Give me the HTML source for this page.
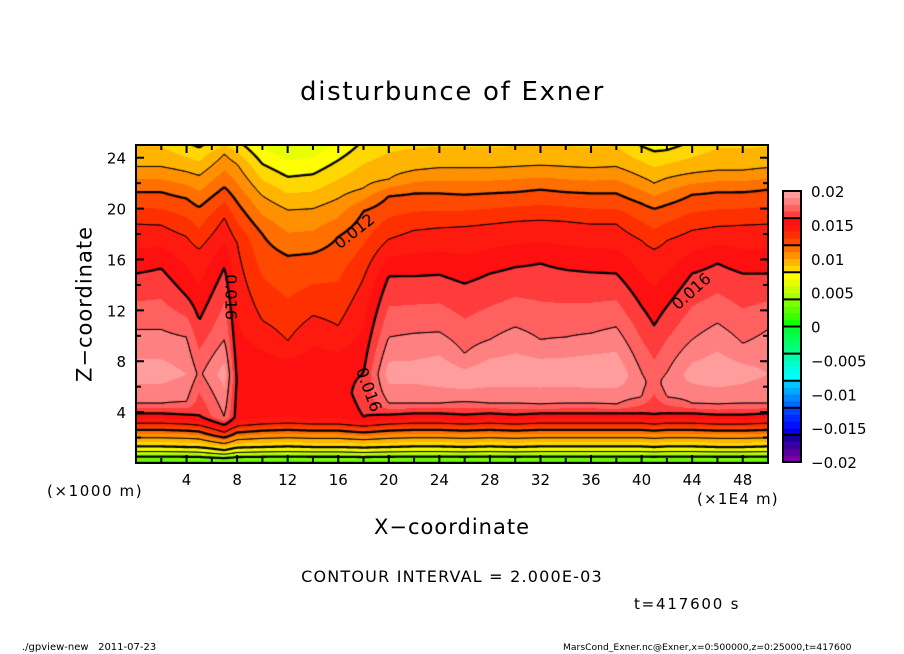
<!DOCTYPE html>
<html><head><meta charset="utf-8">
<style>
body{margin:0;background:#fff;}
#root{position:relative;width:904px;height:654px;overflow:hidden;background:#fff;font-family:"DejaVu Sans","Liberation Sans",sans-serif;color:#000;}
.t{position:absolute;white-space:nowrap;line-height:1;}
canvas{position:absolute;}
svg{position:absolute;left:0;top:0;}
</style></head>
<body>
<div id="root">
  <div class="t" style="left:300px;top:79px;font-size:26px;letter-spacing:1.7px;">disturbunce of Exner</div>
  <div class="t" style="left:85px;top:304px;font-size:21px;letter-spacing:1px;transform:translate(-50%,-50%) rotate(-90deg);">Z−coordinate</div>
  <div class="t" style="left:452px;top:517px;font-size:21px;letter-spacing:1px;transform:translateX(-50%);">X−coordinate</div>
  <div class="t" style="left:47px;top:484px;font-size:15px;letter-spacing:1.6px;">(×1000 m)</div>
  <div class="t" style="left:697px;top:492px;font-size:15px;letter-spacing:1.2px;">(×1E4 m)</div>
  <div class="t" style="left:452px;top:569px;font-size:16px;letter-spacing:1.2px;transform:translateX(-50%);">CONTOUR INTERVAL = 2.000E-03</div>
  <div class="t" style="left:634px;top:597px;font-size:15px;letter-spacing:1.8px;">t=417600 s</div>
  <div class="t" style="left:22px;top:643px;font-size:10px;">./gpview-new&nbsp;&nbsp;&nbsp;2011-07-23</div>
  <div class="t" style="left:563px;top:643px;font-size:9.2px;">MarsCond_Exner.nc@Exner,x=0:500000,z=0:25000,t=417600</div>
  <canvas id="cv" width="632" height="318" style="left:136px;top:145px;"></canvas>
  <svg id="ax" width="904" height="654"></svg>
</div>
<script>
// ---- data (z in km, for columns at xs in 1E4 m) ----
const xs   = [0,2,4,5,7,8,10,12,14,16,18,20,22,24,26,28,30,32,34,36,38,40,41,42,44,46,48,50];
const l8   = [26.5,26.5,25.2,24.8,25.6,25.4,23.5,22.5,22.7,23.8,25.4,26.5,26.5,26.5,26.5,26.5,26.5,26.5,26.5,26.5,26.5,24.9,24.5,24.6,25.3,26.5,26.5,26.5];
const l10  = [23.3,23.3,22.9,22.6,24.3,23.5,21.0,19.9,20.0,20.8,21.6,22.3,23.0,23.2,23.2,23.2,23.3,23.4,23.3,23.2,23.3,22.5,22.0,22.4,22.8,23.0,23.0,23.2];
const l12  = [21.3,21.3,20.8,20.1,21.7,20.5,18.0,16.3,16.5,17.8,19.8,21.0,21.2,21.2,21.1,21.2,21.3,21.5,21.3,21.2,21.2,20.4,20.0,20.3,21.1,21.3,21.3,21.5];
const l14  = [18.8,18.7,17.8,16.8,19.3,17.3,11.2,9.6,11.6,10.8,14.5,17.6,18.3,18.5,18.6,18.8,19.0,19.1,19.0,18.8,18.8,17.5,16.8,17.5,18.3,18.6,18.7,18.8];
const l16u = [14.9,15.3,13.1,11.2,15.4,null,null,null,null,null,7.0,14.7,14.7,14.8,14.1,14.9,15.4,15.7,15.2,15.0,14.9,12.3,10.8,12.3,14.9,15.7,14.9,14.9];
const l18u = [10.5,10.5,9.9,null,9.7,null,null,null,null,null,null,9.9,10.2,10.3,8.6,9.7,10.7,9.7,9.9,10.2,10.7,7.1,null,7.1,9.7,11.0,9.4,10.5];
const peak = [0.0195,0.0195,0.019,0.0178,0.0195,0.0158,0.0158,0.0158,0.0159,0.0158,0.0163,0.0195,0.0195,0.0198,0.0197,0.0198,0.0198,0.0198,0.0198,0.0199,0.0199,0.0183,0.0176,0.0185,0.0195,0.0198,0.0195,0.019];
const zPk  = [7,7,7,7,7,6.5,7,7,7,7,5.5,7,7,7,6.5,7,7,7,7,7,7,6.2,6.5,6.2,7,7,7,7];
const l18d = [4.7,4.7,4.8,null,3.6,null,null,null,null,null,null,4.7,4.7,4.7,4.8,4.7,4.7,4.6,4.7,4.7,4.6,5.2,null,5.2,4.7,4.6,4.7,4.7];
const l16d = [3.9,3.9,3.8,3.7,3.0,3.6,3.8,3.9,3.8,3.8,3.6,3.8,3.9,3.9,3.8,3.9,3.8,3.9,3.9,3.9,3.9,3.9,3.8,3.9,3.9,3.8,3.8,3.9];
const lowLevels = [0.004,0.006,0.008,0.010,0.012,0.014];
const lowFrac   = [0.13,0.23,0.33,0.51,0.67,0.8];
const xTicks = [4,8,12,16,20,24,28,32,36,40,44,48];
const zTicks = [4,8,12,16,20,24];
const cbLabels = ["0.02","0.015","0.01","0.005","0","−0.005","−0.01","−0.015","−0.02"];
const binColors = ["#7800a0","#5800a0","#3800a0","#1800a0","#0000e0","#0010ff","#0028ff","#0040ff",
 "#0068ff","#0088ff","#00a8ff","#00c8ff","#00ffff","#00ffe8","#00ffcc","#00ffa8",
 "#00ff80","#00ff68","#00ff50","#00ff30","#10ff00","#38ff00","#5cff00","#80ff00",
 "#a8ff00","#c8ff00","#e8ff00","#ffff00","#ffd800","#ffb400","#ff9000","#ff7000",
 "#ff4800","#ff3000","#ff1a10","#ff1010","#ff3c3c","#ff6060","#ff8080","#ff9c9c"];

// ---- geometry ----
const X0=136,X1=768,Y0=145,Y1=463,XMAX=50,ZMAX=25;
const sx=x=>X0+(x/XMAX)*(X1-X0);
const sy=z=>Y1-(z/ZMAX)*(Y1-Y0);

const profiles = xs.map((_,i)=>{
  const P=[[0,0.0018]];
  const base=l16d[i];
  for(let k=0;k<lowLevels.length;k++) if(lowLevels[k]<peak[i]) P.push([base*lowFrac[k],lowLevels[k]]);
  if(peak[i]>=0.016) P.push([base,0.016]); else P.push([base,peak[i]-0.0003]);
  const add=(z,v)=>{ if(z!=null && z>P[P.length-1][0]) P.push([z,v]); };
  add(l18d[i],0.018); add(zPk[i],peak[i]); add(l18u[i],0.018); add(l16u[i],0.016);
  add(l14[i],0.014); add(l12[i],0.012); add(l10[i],0.010); add(l8[i],0.008);
  return P;
});
function pval(P,z){
  for(let k=0;k<P.length-1;k++){ if(z<=P[k+1][0]){ const t=(z-P[k][0])/(P[k+1][0]-P[k][0]); return P[k][1]+t*(P[k+1][1]-P[k][1]); } }
  const a=P[P.length-2],b=P[P.length-1]; return b[1]+(z-b[0])*(b[1]-a[1])/(b[0]-a[0]);
}
function field(x,z){
  let i=0; while(i<xs.length-2 && x>xs[i+1]) i++;
  const t=Math.max(0,Math.min(1,(x-xs[i])/(xs[i+1]-xs[i])));
  return pval(profiles[i],z)*(1-t)+pval(profiles[i+1],z)*t;
}
function hex(c){return [parseInt(c.substr(1,2),16),parseInt(c.substr(3,2),16),parseInt(c.substr(5,2),16)];}
const rgb=binColors.map(hex);

const cv=document.getElementById('cv'),ctx=cv.getContext('2d');
const W=632,H=318,img=ctx.createImageData(W,H);
for(let py=0;py<H;py++){
  const z=(H-py-0.5)/H*ZMAX;
  for(let px=0;px<W;px++){
    const x=(px+0.5)/W*XMAX, v=field(x,z);
    let c; if(v>=0.02) c=[255,255,255]; else { let k=Math.floor((v+0.02)/0.001+1e-9); k=Math.max(0,Math.min(39,k)); c=rgb[k]; }
    const o=(py*W+px)*4; img.data[o]=c[0];img.data[o+1]=c[1];img.data[o+2]=c[2];img.data[o+3]=255;
  }
}
ctx.putImageData(img,0,0);

// contour lines (marching squares)
const S=2,NX=W/S+1,NY=Math.floor(H/S)+1,G=[];
for(let j=0;j<NY;j++){G.push([]);const z=(H-j*S)/H*ZMAX;for(let i=0;i<NX;i++)G[j].push(field(i*S/W*XMAX,z));}
ctx.strokeStyle='#000';ctx.lineCap='round';
for(let lv=1;lv<=10;lv++){
  const L=lv*0.002;
  ctx.lineWidth=(lv%2===0)?2.3:1;
  ctx.beginPath();
  for(let j=0;j<NY-1;j++)for(let i=0;i<NX-1;i++){
    const a=G[j][i],b=G[j][i+1],c=G[j+1][i+1],d=G[j+1][i];
    const pts=[];
    const e=(v1,v2,x1,y1,x2,y2)=>{ if((v1<L)!==(v2<L)){const t=(L-v1)/(v2-v1);pts.push([x1+t*(x2-x1),y1+t*(y2-y1)]);} };
    const x=i*S,y=j*S;
    e(a,b,x,y,x+S,y); e(b,c,x+S,y,x+S,y+S); e(c,d,x+S,y+S,x,y+S); e(d,a,x,y+S,x,y);
    for(let k=0;k+1<pts.length;k+=2){ctx.moveTo(pts[k][0],pts[k][1]);ctx.lineTo(pts[k+1][0],pts[k+1][1]);}
  }
  ctx.stroke();
}

// axes
const NS='http://www.w3.org/2000/svg',svg=document.getElementById('ax');
function mk(tag,attrs){const el=document.createElementNS(NS,tag);for(const k in attrs)el.setAttribute(k,attrs[k]);svg.appendChild(el);return el;}
let el=mk('rect',{x:X0,y:Y0,width:X1-X0,height:Y1-Y0,fill:'none',stroke:'#000','stroke-width':2});


for(let x=2;x<XMAX;x+=2){
  const len=(x%4===0)?8:5;
  el=mk('line',{x1:sx(x),x2:sx(x),y1:Y1,y2:Y1-len,stroke:'#000','stroke-width':2});
  
  
  el=mk('line',{x1:sx(x),x2:sx(x),y1:Y0,y2:Y0+len,stroke:'#000','stroke-width':2});
  
  
}
for(let z=2;z<ZMAX;z+=2){
  const len=(z%4===0)?8:5;
  el=mk('line',{x1:X0,x2:X0+len,y1:sy(z),y2:sy(z),stroke:'#000','stroke-width':2});
  
  
  el=mk('line',{x1:X1,x2:X1-len,y1:sy(z),y2:sy(z),stroke:'#000','stroke-width':2});
  
  
}
xTicks.forEach(x=>{
  el=mk('text',{x:sx(x),y:485,'font-size':15,'text-anchor':'middle','font-family':'DejaVu Sans, Liberation Sans, sans-serif'});
  el.textContent=x;
  
  
});
zTicks.forEach(z=>{
  el=mk('text',{x:126,y:sy(z)+6,'font-size':15,'text-anchor':'end','font-family':'DejaVu Sans, Liberation Sans, sans-serif'});
  el.textContent=z;
  
  
});
// contour labels
[[355,232,-38,'0.012'],[230,297,90,'0.016'],[368,390,70,'0.016'],[692,292,-42,'0.016']].forEach(p=>{
  el=mk('text',{x:p[0],y:p[1],'font-size':16,'text-anchor':'middle','dominant-baseline':'middle',transform:`rotate(${p[2]} ${p[0]} ${p[1]})`,'font-family':'DejaVu Sans, Liberation Sans, sans-serif'});
  el.textContent=p[3];
  
  
});
// colorbar
const CX=783,CW=18,CT=191,CB=462,bh=(CB-CT)/40;
binColors.forEach((c,k)=>{
  el=mk('rect',{x:CX,y:CB-(k+1)*bh,width:CW,height:bh+0.3,fill:c});
  
  
});
for(let k=4;k<40;k+=4){
  el=mk('line',{x1:CX,x2:CX+CW,y1:CB-k*bh,y2:CB-k*bh,stroke:'#000','stroke-width':2});
  
  
}
el=mk('rect',{x:CX,y:CT,width:CW,height:CB-CT,fill:'none',stroke:'#000','stroke-width':2});


cbLabels.forEach((s,k)=>{
  el=mk('text',{x:811,y:CT+k*(CB-CT)/8+6,'font-size':15,'font-family':'DejaVu Sans, Liberation Sans, sans-serif'});
  el.textContent=s;
  
  
});
</script>
</body></html>
